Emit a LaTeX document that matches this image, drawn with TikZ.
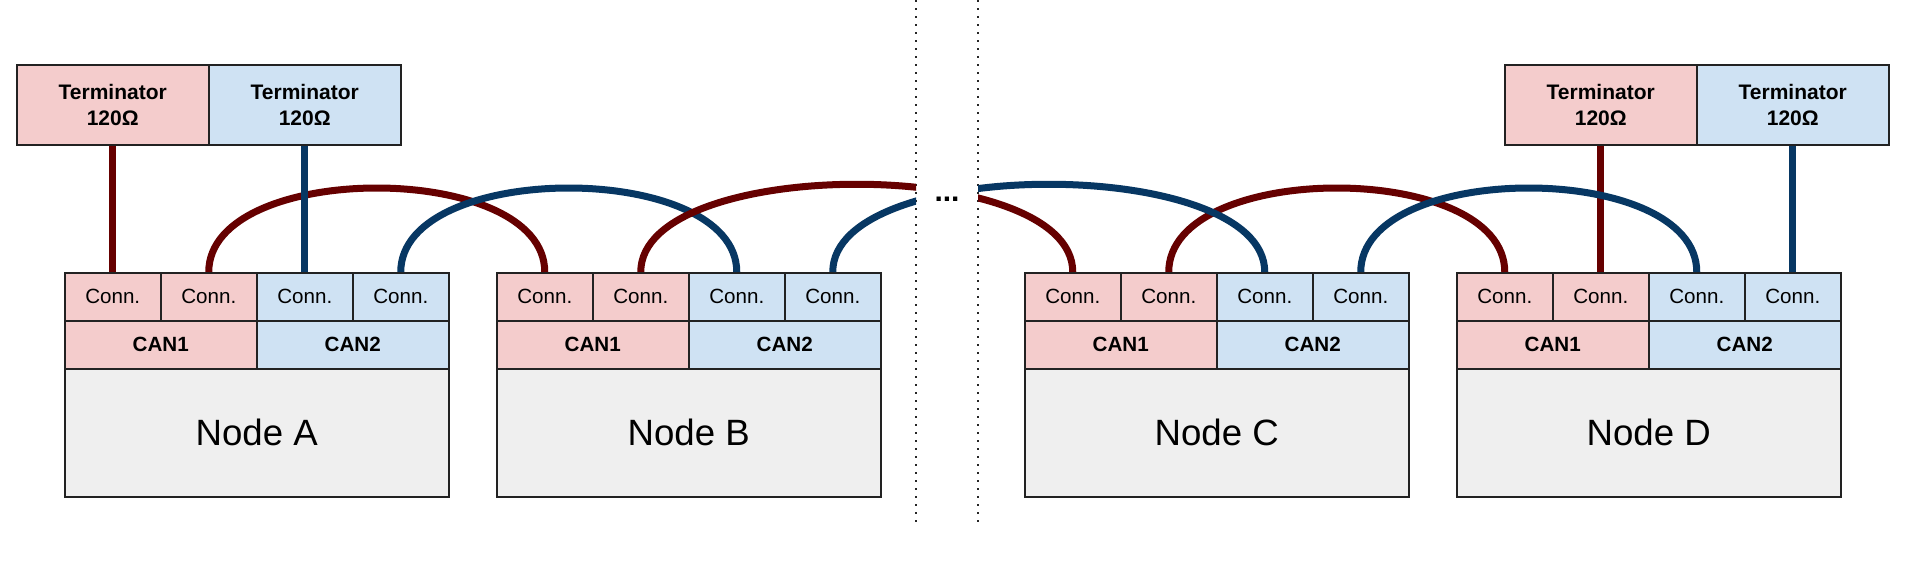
\documentclass[tikz,border=0pt]{standalone}
\usepackage{fontspec}
\setmainfont{Liberation Sans}
\definecolor{pinkc}{HTML}{F4CCCC}
\definecolor{bluec}{HTML}{CFE2F3}
\definecolor{grayc}{HTML}{EFEFEF}
\definecolor{redw}{HTML}{660000}
\definecolor{bluew}{HTML}{073763}
\definecolor{edge}{HTML}{222222}
\tikzset{
  cellbox/.style={draw=edge, line width=1.5pt, fill=#1, inner sep=0pt, anchor=north west},
  conncell/.style={cellbox=#1, minimum width=96pt, minimum height=48pt, font=\fontsize{20.6}{24}\selectfont},
  cancell/.style={cellbox=#1, minimum width=192pt, minimum height=48pt, font=\fontsize{20.6}{24}\selectfont\bfseries},
  bodycell/.style={cellbox=grayc, minimum width=384pt, minimum height=128pt, font=\fontsize{36.6}{40}\selectfont},
  termcell/.style={cellbox=#1, minimum width=192pt, minimum height=80pt, align=center, font=\fontsize{21}{25.7}\selectfont\bfseries},
  redwire/.style={draw=redw, line width=7pt},
  bluewire/.style={draw=bluew, line width=7pt},
  dotline/.style={draw=black!85, line width=2pt, dash pattern=on 2pt off 6pt},
}
\begin{document}
\begin{tikzpicture}[x=1pt,y=-1pt]
\useasboundingbox[fill=white] (0,0) rectangle (1920,562);
% nodes
\foreach \n/\L in {A/64,B/496,C/1024,D/1456}{
  \node[conncell=pinkc] (\n1) at (\L,272) {Conn.};
  \node[conncell=pinkc] (\n2) at (\L+96,272) {Conn.};
  \node[conncell=bluec] (\n3) at (\L+192,272) {Conn.};
  \node[conncell=bluec] (\n4) at (\L+288,272) {Conn.};
  \node[cancell=pinkc] (\n can1) at (\L,320) {CAN1};
  \node[cancell=bluec] (\n can2) at (\L+192,320) {CAN2};
  \node[bodycell] (\n body) at (\L,368) {Node \n};
}
% terminators
\node[termcell=pinkc] (TA1) at (16,64) {Terminator\\120Ω};
\node[termcell=bluec] (TA2) at (208,64) {Terminator\\120Ω};
\node[termcell=pinkc] (TD1) at (1504,64) {Terminator\\120Ω};
\node[termcell=bluec] (TD2) at (1696,64) {Terminator\\120Ω};
% dotted separators
\coordinate (g1t) at (916,0);
\coordinate (g1b) at (916,523);
\coordinate (g2t) at (978,0);
\coordinate (g2b) at (978,523);
\draw[dotline] (g1t) -- (g1b);
\draw[dotline] (g2t) -- (g2b);
\node[inner sep=0pt, font=\fontsize{30}{32}\selectfont\bfseries] (dots) at (947,199) {...};
% wires
\draw[redwire] (TA1.south) -- (A1.north);
\draw[redwire] (A2.north) .. controls +(0,-112) and +(0,-112) .. (B1.north);
\draw[bluewire] (TA2.south) -- (A3.north);
\draw[bluewire] (A4.north) .. controls +(0,-112) and +(0,-112) .. (B3.north);
\begin{scope}
  \clip (0,0) rectangle (916,562) (978,0) rectangle (1920,562);
  \draw[redwire] (B2.north) .. controls +(0,-117) and +(0,-117) .. (C1.north);
  \draw[redwire] (C2.north) .. controls +(0,-112) and +(0,-112) .. (D1.north);
  \draw[bluewire] (B4.north) .. controls +(0,-117) and +(0,-117) .. (C3.north);
\end{scope}
\draw[redwire] (TD1.south) -- (D2.north);
\draw[bluewire] (C4.north) .. controls +(0,-112) and +(0,-112) .. (D3.north);
\draw[bluewire] (TD2.south) -- (D4.north);
\end{tikzpicture}
\end{document}
